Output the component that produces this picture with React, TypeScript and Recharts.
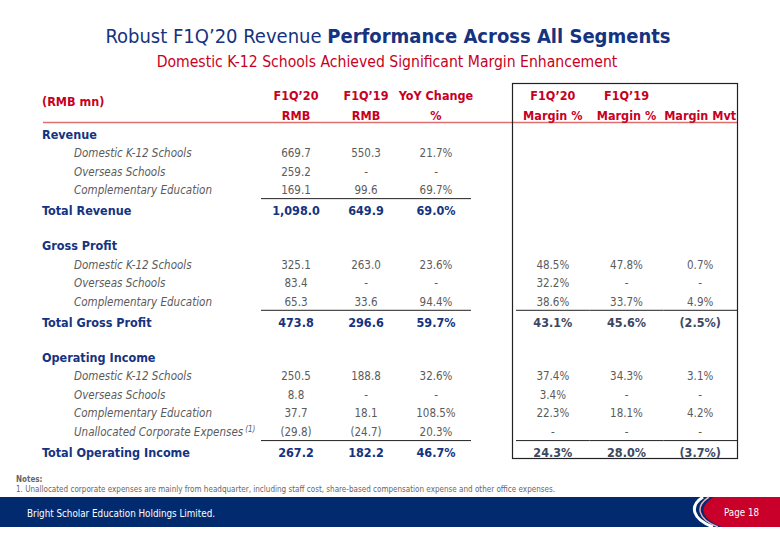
import React from 'react';
import { ScatterChart, Scatter, XAxis, YAxis } from 'recharts';

// column headers (two lines, split on \n)
const leftCols = ['F1Q’20\nRMB', 'F1Q’19\nRMB', 'YoY Change\n%'];
const rightCols = ['F1Q’20\nMargin %', 'F1Q’19\nMargin %', '\nMargin Mvt'];

const segmentItems = ['Domestic K-12 Schools', 'Overseas Schools', 'Complementary Education'];
const opIncomeItems = [...segmentItems, 'Unallocated Corporate Expenses'];

// Revenue
const revF1Q20 = [669.7, 259.2, 169.1];
const revF1Q19 = [550.3, null, 99.6];
const revYoY = [21.7, null, 69.7];
const revTotal = [1098.0, 649.9, 69.0];

// Gross profit
const gpF1Q20 = [325.1, 83.4, 65.3];
const gpF1Q19 = [263.0, null, 33.6];
const gpYoY = [23.6, null, 94.4];
const gpTotal = [473.8, 296.6, 59.7];
const gpMargin20 = [48.5, 32.2, 38.6];
const gpMargin19 = [47.8, null, 33.7];
const gpMarginMvt = [0.7, null, 4.9];
const gpMarginTotal = [43.1, 45.6, -2.5];

// Operating income
const oiF1Q20 = [250.5, 8.8, 37.7, -29.8];
const oiF1Q19 = [188.8, null, 18.1, -24.7];
const oiYoY = [32.6, null, 108.5, 20.3];
const oiTotal = [267.2, 182.2, 46.7];
const oiMargin20 = [37.4, 3.4, 22.3, null];
const oiMargin19 = [34.3, null, 18.1, null];
const oiMarginMvt = [3.1, null, 4.2, null];
const oiMarginTotal = [24.3, 28.0, -3.7];

const NAVY = '#15337f';
const RED = '#c8001e';
const GRAY = '#5b5b5b';
const SLATE = '#3d4860';
const BODY_FONT = '"DejaVu Sans Condensed", "DejaVu Sans", sans-serif';

type Kind = 'section' | 'item' | 'last' | 'total' | 'blank';
interface Row {
  row: string;
  label: string;
  kind: Kind;
  note?: string;
  cells: string[];
}

const fmt = (v: number | null, pct: boolean) => {
  if (v === null) return '-';
  const s = Math.abs(v).toLocaleString('en-US', { minimumFractionDigits: 1, maximumFractionDigits: 1 }) + (pct ? '%' : '');
  return v < 0 ? `(${s})` : s;
};

const sections = [
  {
    key: 'rev', title: 'Revenue', items: segmentItems, totalLabel: 'Total Revenue',
    values: [revF1Q20, revF1Q19, revYoY], total: revTotal, margins: null as (number | null)[][] | null, marginTotal: null as number[] | null,
  },
  {
    key: 'gp', title: 'Gross Profit', items: segmentItems, totalLabel: 'Total Gross Profit',
    values: [gpF1Q20, gpF1Q19, gpYoY], total: gpTotal, margins: [gpMargin20, gpMargin19, gpMarginMvt], marginTotal: gpMarginTotal,
  },
  {
    key: 'oi', title: 'Operating Income', items: opIncomeItems, totalLabel: 'Total Operating Income',
    values: [oiF1Q20, oiF1Q19, oiYoY], total: oiTotal, margins: [oiMargin20, oiMargin19, oiMarginMvt], marginTotal: oiMarginTotal,
  },
];

const rows: Row[] = [];
sections.forEach((s, si) => {
  if (si > 0) rows.push({ row: `${s.key}-gap`, label: '', kind: 'blank', cells: ['', '', '', '', '', ''] });
  rows.push({ row: s.key, label: s.title, kind: 'section', cells: ['', '', '', '', '', ''] });
  s.items.forEach((label, i) => {
    const cells = [fmt(s.values[0][i], false), fmt(s.values[1][i], false), fmt(s.values[2][i], true)];
    if (s.margins) s.margins.forEach((m) => cells.push(fmt(m[i], true)));
    else cells.push('', '', '');
    rows.push({
      row: `${s.key}-${i}`,
      label,
      kind: i === s.items.length - 1 ? 'last' : 'item',
      note: label.startsWith('Unallocated') ? '(1)' : undefined,
      cells,
    });
  });
  const tcells = [fmt(s.total[0], false), fmt(s.total[1], false), fmt(s.total[2], true)];
  if (s.marginTotal) s.marginTotal.forEach((m) => tcells.push(fmt(m, true)));
  else tcells.push('', '', '');
  rows.push({ row: `${s.key}-total`, label: s.totalLabel, kind: 'total', cells: tcells });
});

const rowByKey = new Map(rows.map((r) => [r.row, r]));

const seriesFor = (cols: string[], offset: number) =>
  cols.map((col, ci) => rows.map((r) => ({ row: r.row, col, text: r.cells[offset + ci], kind: r.kind })));

const leftSeries = seriesFor(leftCols, 0);
const rightSeries = seriesFor(rightCols, 3);

const CHART_H = 540;
const MARGIN_TOP = 85;
const HEADER_H = 40;
const MARGIN_BOTTOM = 80;
const TOTAL_SHIFT = 2;
const LEFT_W = 480;
const LEFT_MARGIN = { top: MARGIN_TOP, right: 9, bottom: MARGIN_BOTTOM, left: 0 };
const Y_AXIS_W = 261;
const LEFT_BAND = (LEFT_W - LEFT_MARGIN.right - Y_AXIS_W) / leftCols.length;
const RIGHT_X = 480;
const RIGHT_W = 300;
const RIGHT_MARGIN = { top: MARGIN_TOP, right: 43, bottom: MARGIN_BOTTOM, left: 36 };
const RIGHT_BAND = (RIGHT_W - RIGHT_MARGIN.left - RIGHT_MARGIN.right) / rightCols.length;

const HeaderTick = ({ x, y, payload }: any) => {
  const [a, b] = String(payload.value).split('\n');
  const style = { fill: RED, fontWeight: 700, fontSize: 12.5, fontFamily: BODY_FONT };
  return (
    <g>
      <text x={x} y={y - 27} dy="0.35em" textAnchor="middle" style={style}>{a}</text>
      <text x={x} y={y - 7} dy="0.35em" textAnchor="middle" style={style}>{b}</text>
    </g>
  );
};

const RowLabelTick = ({ y, payload }: any) => {
  const r = rowByKey.get(payload.value);
  if (!r || r.kind === 'blank') return <g />;
  const bold = r.kind === 'section' || r.kind === 'total';
  return (
    <text
      x={bold ? 42 : 74}
      y={y + (r.kind === 'total' ? TOTAL_SHIFT : 0)}
      dy="0.35em"
      textAnchor="start"
      style={{
        fill: bold ? NAVY : GRAY,
        fontWeight: bold ? 700 : 400,
        fontStyle: bold ? 'normal' : 'italic',
        fontSize: bold ? 12.5 : 11.5,
        fontFamily: BODY_FONT,
      }}
    >
      {r.label}
      {r.note && (
        <tspan dx={2} dy={-4} style={{ fontSize: 8 }}>{r.note}</tspan>
      )}
    </text>
  );
};

const makeCell = (band: number, totalColor: string) => (props: any) => {
  const { cx, cy, payload } = props;
  if (!payload || !payload.text) return <g />;
  const isTotal = payload.kind === 'total';
  return (
    <g>
      <text
        x={cx}
        y={cy + (isTotal ? TOTAL_SHIFT : 0)}
        dy="0.35em"
        textAnchor="middle"
        style={{
          fill: isTotal ? totalColor : GRAY,
          fontWeight: isTotal ? 700 : 400,
          fontSize: isTotal ? 12.5 : 11.5,
          fontFamily: BODY_FONT,
        }}
      >
        {payload.text}
      </text>
      {payload.kind === 'last' && (
        <line x1={cx - band / 2} x2={cx + band / 2} y1={cy + 8.5} y2={cy + 8.5} stroke="#222" strokeWidth={1} />
      )}
    </g>
  );
};

const leftCell = makeCell(LEFT_BAND, NAVY);
const rightCell = makeCell(RIGHT_BAND, SLATE);

const Decorations = () => (
  <svg width={780} height={540} style={{ position: 'absolute', left: 0, top: 0 }}>
    <text x={388} y={36} dy="0.35em" textAnchor="middle" style={{ fontFamily: BODY_FONT, fontSize: 20, fill: NAVY }}>
      Robust F1Q’20 Revenue <tspan style={{ fontWeight: 700 }}>Performance Across All Segments</tspan>
    </text>
    <text x={387} y={62} dy="0.35em" textAnchor="middle" style={{ fontFamily: BODY_FONT, fontSize: 15.6, fill: RED }}>
      Domestic K-12 Schools Achieved Significant Margin Enhancement
    </text>
    <text x={42} y={102} dy="0.35em" style={{ fontFamily: BODY_FONT, fontSize: 12.5, fontWeight: 700, fill: RED }}>
      (RMB mn)
    </text>
    <line x1={43} x2={737} y1={122.5} y2={122.5} stroke="#e07070" strokeWidth={1.6} />
    <rect x={512.5} y={83.5} width={225} height={375} fill="none" stroke="#222" strokeWidth={1.2} />
    <text x={16} y={479} dy="0.35em" style={{ fontFamily: BODY_FONT, fontSize: 8, fontWeight: 700, fill: '#666' }}>Notes:</text>
    <text
      x={16}
      y={489}
      dy="0.35em"
      textLength={539}
      lengthAdjust="spacingAndGlyphs"
      style={{ fontFamily: BODY_FONT, fontSize: 8, fill: '#666' }}
    >
      1.  Unallocated corporate expenses are mainly from headquarter, including staff cost, share-based compensation expense and other office expenses.
    </text>
    <rect x={0} y={497} width={780} height={30} fill="#012a6f" />
    <path d="M 714 497 C 698 506, 700 519, 722 527 L 780 527 L 780 497 Z" fill="#c8002a" />
    <path d="M 703 497 C 689 506, 692 519, 713 527" fill="none" stroke="#fff" strokeWidth={3} />
    <path d="M 709 497 C 695 506, 697 519, 718 527" fill="none" stroke="#e9b0b8" strokeWidth={1.5} />
    <text
      x={27}
      y={513}
      dy="0.35em"
      textLength={188}
      lengthAdjust="spacingAndGlyphs"
      style={{ fontFamily: BODY_FONT, fontSize: 11, fill: '#fff' }}
    >
      Bright Scholar Education Holdings Limited.
    </text>
    <text
      x={724}
      y={512}
      dy="0.35em"
      textLength={35}
      lengthAdjust="spacingAndGlyphs"
      style={{ fontFamily: BODY_FONT, fontSize: 11, fill: '#fff' }}
    >
      Page 18
    </text>
  </svg>
);

const App = () => (
  <div style={{ position: 'absolute', left: 0, top: 0, width: 780, height: 540, background: '#fff', fontFamily: BODY_FONT }}>
    <Decorations />
    <div style={{ position: 'absolute', left: 0, top: 0 }}>
      <ScatterChart width={LEFT_W} height={CHART_H} margin={LEFT_MARGIN}>
        <XAxis
          xAxisId="cols"
          type="category"
          dataKey="col"
          orientation="top"
          allowDuplicatedCategory={false}
          height={HEADER_H}
          axisLine={false}
          tickLine={false}
          tickSize={0}
          tick={<HeaderTick />}
          interval={0}
        />
        <YAxis
          yAxisId="rows"
          type="category"
          dataKey="row"
          allowDuplicatedCategory={false}
          reversed
          width={Y_AXIS_W}
          axisLine={false}
          tickLine={false}
          tick={<RowLabelTick />}
          interval={0}
        />
        {leftSeries.map((data, i) => (
          <Scatter key={i} xAxisId="cols" yAxisId="rows" data={data} shape={leftCell} isAnimationActive={false} />
        ))}
      </ScatterChart>
    </div>
    <div style={{ position: 'absolute', left: RIGHT_X, top: 0 }}>
      <ScatterChart width={RIGHT_W} height={CHART_H} margin={RIGHT_MARGIN}>
        <XAxis
          xAxisId="cols"
          type="category"
          dataKey="col"
          orientation="top"
          allowDuplicatedCategory={false}
          height={HEADER_H}
          axisLine={false}
          tickLine={false}
          tickSize={0}
          tick={<HeaderTick />}
          interval={0}
        />
        <YAxis yAxisId="rows" type="category" dataKey="row" allowDuplicatedCategory={false} reversed hide />
        {rightSeries.map((data, i) => (
          <Scatter key={i} xAxisId="cols" yAxisId="rows" data={data} shape={rightCell} isAnimationActive={false} />
        ))}
      </ScatterChart>
    </div>
  </div>
);

export default App;
